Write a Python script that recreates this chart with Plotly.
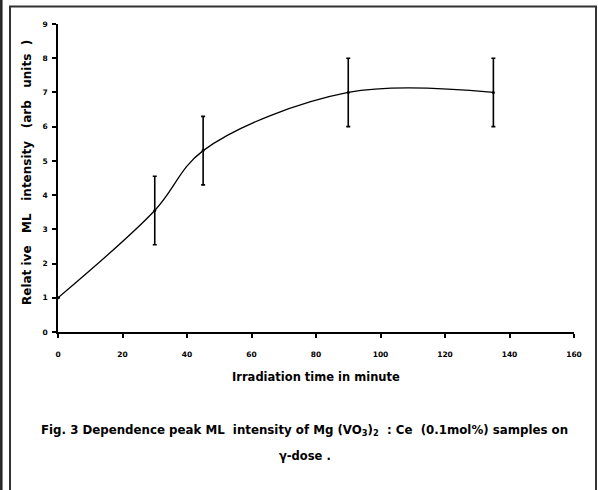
import plotly.graph_objects as go

time_min = [0, 30, 45, 90, 135]
intensity = [1.0, 3.55, 5.3, 7.0, 7.0]
err = [0, 1, 1, 1, 1]
x_ticks = [0, 20, 40, 60, 80, 100, 120, 140, 160]
y_ticks = [0, 1, 2, 3, 4, 5, 6, 7, 8, 9]

W, H = 598, 490
L, T = 58, 24
pw, ph = 516, 308
R, B = W - L - pw, H - T - ph


def px(x):
    return (x - L) / pw


def py(y):
    return (T + ph - y) / ph


fig = go.Figure()
fig.add_trace(go.Scatter(
    x=time_min, y=intensity, mode="lines+markers",
    line=dict(color="black", width=1.3, shape="spline", smoothing=1.0),
    marker=dict(color="black", size=3),
    error_y=dict(type="data", array=err, visible=True, color="black",
                 thickness=1.6, width=2),
    showlegend=False, cliponaxis=False,
))

font_axis = dict(family="DejaVu Sans", size=7.5, color="black")
fig.update_xaxes(range=[0, 160], tickvals=x_ticks,
                 ticktext=["<b>%d</b>" % v for v in x_ticks],
                 showline=True, linecolor="black", linewidth=1.6, ticks="outside",
                 ticklen=4, tickwidth=1.6, tickcolor="black", showgrid=False,
                 zeroline=False, tickfont=font_axis, ticklabelstandoff=10,
                 automargin=False)
fig.update_yaxes(range=[0, 9], tickvals=y_ticks,
                 ticktext=["<b>%d</b>" % v for v in y_ticks],
                 showline=True, linecolor="black", linewidth=1.6, ticks="outside",
                 ticklen=4, tickwidth=1.6, tickcolor="black", showgrid=False,
                 zeroline=False, tickfont=font_axis, ticklabelstandoff=3,
                 automargin=False)

bold = dict(family="DejaVu Sans", size=11.5, color="black")
ann = [
    dict(text="<b>Irradiation time in minute</b>", x=px(316), y=py(377), font=bold),
    dict(text="<b>Relat ive   ML   intensity   (arb   units  )</b>", x=px(27), y=py(173),
         textangle=-90, font=dict(bold, size=12)),
    dict(text="<b>Fig. 3 Dependence peak ML  intensity of Mg (VO<sub>3</sub>)<sub>2</sub>  : Ce  (0.1mol%) samples on</b>",
         x=px(304), y=py(430), font=dict(bold, size=11.8)),
    dict(text="<b>γ-dose .</b>", x=px(305), y=py(456), font=bold),
]
for a in ann:
    a.update(xref="paper", yref="paper", showarrow=False, xanchor="center",
             yanchor="middle")
    fig.add_annotation(**a)

fig.add_shape(type="rect", xref="paper", yref="paper",
              x0=px(10), x1=px(596), y0=py(500), y1=py(6.5),
              line=dict(color="#333333", width=2))
fig.add_shape(type="line", xref="paper", yref="paper",
              x0=px(1.3), x1=px(1.3), y0=py(0), y1=py(490),
              line=dict(color="#222222", width=2.5))

fig.update_layout(width=W, height=H,
                  margin=dict(l=L, r=R, t=T, b=B, autoexpand=False),
                  paper_bgcolor="white", plot_bgcolor="white")
fig.write_html("out.html", config={"displayModeBar": False},
               post_script="document.body.style.margin='0';document.body.style.overflow='hidden';")
